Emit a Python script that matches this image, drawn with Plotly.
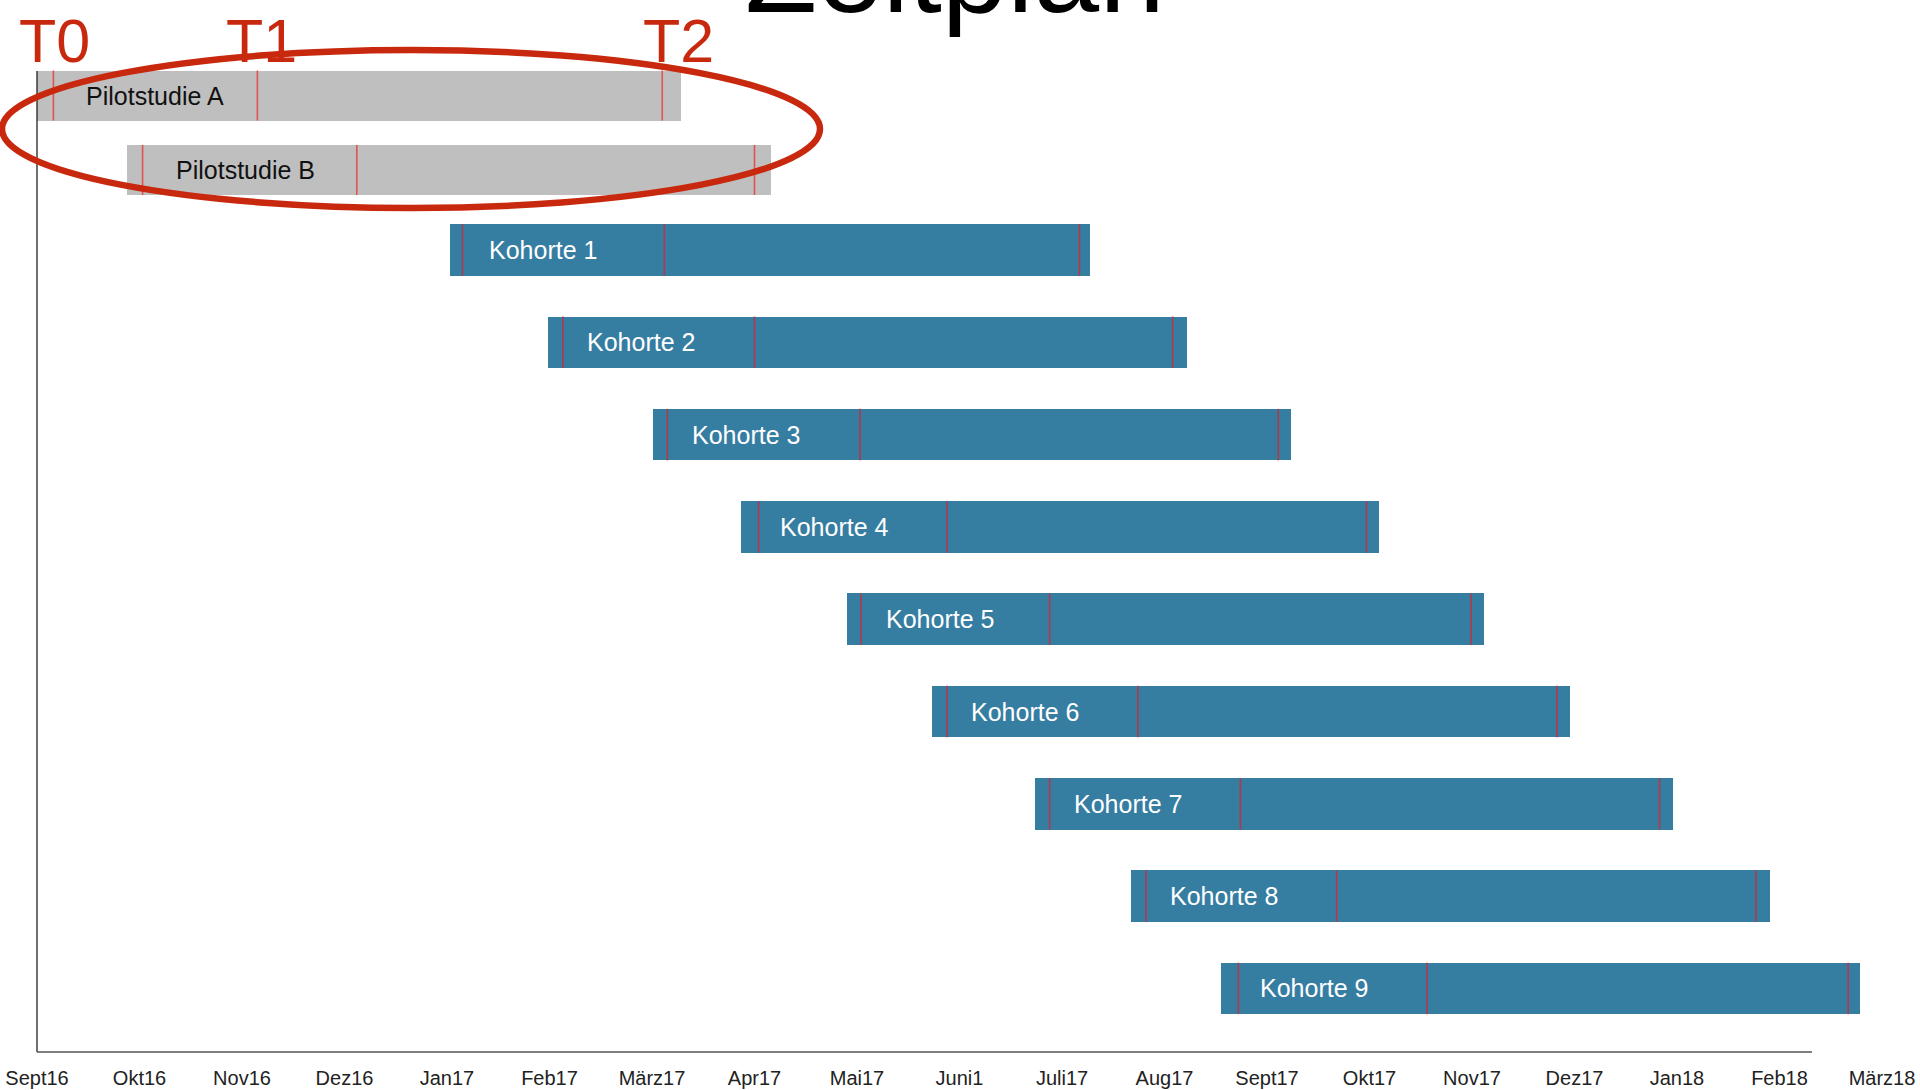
import plotly.graph_objects as go

# ---- data (months since Sept 2016) ----
pilot_names = ["Pilotstudie A", "Pilotstudie B"]
pilot_start = [0.00, 0.88]
pilot_end   = [6.28, 7.16]
pilot_t0    = [0.16, 1.03]
pilot_t1    = [2.15, 3.12]
pilot_t2    = [6.10, 7.00]

cohort_names = ["Kohorte 1", "Kohorte 2", "Kohorte 3", "Kohorte 4", "Kohorte 5",
                "Kohorte 6", "Kohorte 7", "Kohorte 8", "Kohorte 9"]
cohort_start = [4.03, 4.99, 6.01, 6.87, 7.90, 8.73, 9.74, 10.67, 11.55]
cohort_end   = [10.27, 11.22, 12.23, 13.09, 14.12, 14.96, 15.96, 16.91, 17.79]
cohort_t0    = [4.15, 5.13, 6.15, 7.04, 8.04, 8.88, 9.88, 10.82, 11.72]
cohort_t1    = [6.12, 7.00, 8.03, 8.88, 9.88, 10.74, 11.74, 12.68, 13.56]
cohort_t2    = [10.17, 11.08, 12.11, 12.97, 13.99, 14.83, 15.83, 16.77, 17.67]

month_labels = ["Sept16", "Okt16", "Nov16", "Dez16", "Jan17", "Feb17", "März17", "Apr17",
                "Mai17", "Juni1", "Juli17", "Aug17", "Sept17", "Okt17", "Nov17", "Dez17",
                "Jan18", "Feb18", "März18"]
month_pos = list(range(len(month_labels)))

phase_labels = ["T0", "T1", "T2"]
title_text = "Zeitplan"

# ---- styling ----
FONT = "Liberation Sans"
GRAY = "#BFBFBF"
BLUE = "#367DA2"
RED = "#C8290E"

W, H = 1920, 1090
ML, MR, MT, MB = 37, 7, 20, 38
plot_w = W - ML - MR
plot_h = H - MT - MB
px_per_month = 102.5
x_max = plot_w / px_per_month


def py(pix):
    return (H - MB - pix) / plot_h


def px(pix):
    return (pix - ML) / plot_w


SPLIT = 200          # pixel row separating the two groups
P_STEP, C_STEP = 74.5, 92.3
P_FIRST, C_FIRST = 95.5, 250
P_BAR, C_BAR = 50 / P_STEP, 51.5 / C_STEP
p_range = [(SPLIT - P_FIRST) / P_STEP, (MT - P_FIRST) / P_STEP]
c_range = [(H - MB - C_FIRST) / C_STEP, (SPLIT - C_FIRST) / C_STEP]

fig = go.Figure()
shapes, annotations = [], []


def add_group(names, start, end, t0, t1, t2, yax, color, bar_w, mcol, tcol, tshift):
    rows = list(range(len(names)))
    fig.add_trace(go.Bar(
        y=rows, x=[e - s for s, e in zip(start, end)], base=start,
        orientation="h", width=bar_w, xaxis="x", yaxis=yax,
        marker=dict(color=color, line=dict(width=0)),
        hoverinfo="skip", showlegend=False,
    ))
    yref = "y" if yax == "y" else "y2"
    for i, name in enumerate(names):
        for t in (t0[i], t1[i], t2[i]):
            shapes.append(dict(type="line", xref="x", yref=yref,
                               x0=t, x1=t, y0=i - bar_w / 2, y1=i + bar_w / 2,
                               line=dict(color=mcol, width=1.6)))
        annotations.append(dict(
            x=start[i], y=i, xref="x", yref=yref, text=name, showarrow=False,
            xanchor="left", yanchor="middle", xshift=tshift,
            font=dict(family=FONT, size=25, color=tcol),
        ))


add_group(pilot_names, pilot_start, pilot_end, pilot_t0, pilot_t1, pilot_t2,
          "y", GRAY, P_BAR, "#E2524F", "#111111", 47)
add_group(cohort_names, cohort_start, cohort_end, cohort_t0, cohort_t1, cohort_t2,
          "y2", BLUE, C_BAR, "rgba(200,45,60,0.85)", "white", 37)

# axis lines
shapes.append(dict(type="line", xref="paper", yref="paper",
                   x0=0, x1=0, y0=0, y1=py(71), line=dict(color="#222222", width=1.3)))
shapes.append(dict(type="line", xref="paper", yref="paper",
                   x0=0, x1=px(1812), y0=0, y1=0, line=dict(color="#555555", width=1.6)))
# ellipse around pilot studies
shapes.append(dict(type="circle", xref="paper", yref="paper",
                   x0=px(2), x1=px(820), y0=py(208), y1=py(50),
                   line=dict(color=RED, width=6.5)))

# phase labels
for lab, xp in zip(phase_labels, (54, 261, 678)):
    annotations.append(dict(
        x=px(xp), xref="paper", y=py(77), yref="paper", text=lab, showarrow=False,
        xanchor="center", yanchor="bottom",
        font=dict(family=FONT, size=61, color=RED),
    ))

# title (cut off at top in reference)
annotations.append(dict(
    x=px(955), xref="paper", y=py(39), yref="paper", text=title_text, showarrow=False,
    xanchor="center", yanchor="bottom",
    font=dict(family=FONT, size=118, color="black"),
))

fig.update_layout(
    width=W, height=H,
    margin=dict(l=ML, r=MR, t=MT, b=MB, autoexpand=False),
    paper_bgcolor="white", plot_bgcolor="white",
    shapes=shapes, annotations=annotations,
    bargap=0,
    xaxis=dict(range=[0, x_max], tickvals=month_pos, ticktext=month_labels,
               anchor="free", position=0,
               showgrid=False, zeroline=False, showline=False,
               ticks="outside", ticklen=8, tickcolor="rgba(0,0,0,0)",
               tickfont=dict(family=FONT, size=20, color="#222222"), automargin=False),
    yaxis=dict(domain=[py(SPLIT), 1], range=p_range, showticklabels=False,
               showgrid=False, zeroline=False, showline=False, automargin=False),
    yaxis2=dict(domain=[0, py(SPLIT)], range=c_range, showticklabels=False,
                showgrid=False, zeroline=False, showline=False, automargin=False),
    font=dict(family=FONT),
)

fig.write_html("out.html", config={"displayModeBar": False},
               post_script="document.body.style.margin='0';")
